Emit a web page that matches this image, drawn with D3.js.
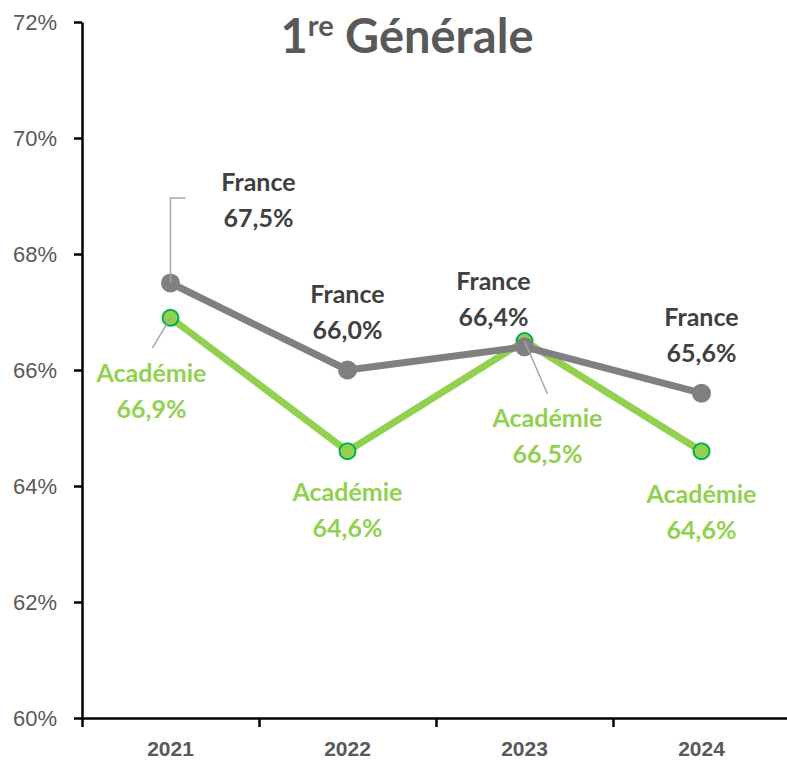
<!DOCTYPE html>
<html>
<head>
<meta charset="utf-8">
<script src="https://cdn.jsdelivr.net/npm/d3@7"></script>
<style>
body { margin: 0; background: #fff; }
svg { font-family: Lato, "Open Sans", sans-serif; }
.axis path, .axis line { stroke: #000; stroke-width: 2.5px; }
.axis text { fill: #595959; }
</style>
</head>
<body>
<svg width="787" height="764"></svg>
<script>
var years = ["2021", "2022", "2023", "2024"];
var france = [67.5, 66.0, 66.4, 65.6];
var academie = [66.9, 64.6, 66.5, 64.6];
var yTicks = [60, 62, 64, 66, 68, 70, 72];

// label placement (pixel offsets from each point), layout only
var franceLab = [[88, -101], [0, -76], [-31, -66], [0, -76]];
var acadLab = [[-19, 55], [0, 41], [23, 77], [0, 43]];

var svg = d3.select("svg");
var plotL = 82, plotR = 790, plotT = 22, plotB = 718;

var x = d3.scaleBand().domain(years).range([plotL, plotR]);
var xb = d3.scaleLinear().domain([0, 4]).range([plotL, plotR]);
var y = d3.scaleLinear().domain([60, 72]).range([plotB, plotT]);
var cx = function(d) { return x(d) + x.bandwidth() / 2; };

var fmt = function(v) { return v.toFixed(1).replace(".", ",") + "%"; };

// y axis
svg.append("g")
    .attr("class", "axis")
    .attr("transform", "translate(" + plotL + ",0)")
    .call(d3.axisLeft(y).tickValues(yTicks).tickSize(8).tickSizeOuter(0).tickPadding(17)
        .tickFormat(function(d) { return d + "%"; }))
    .selectAll("text").style("font-size", "22px");

// x axis: boundary ticks
svg.append("g")
    .attr("class", "axis")
    .attr("transform", "translate(0," + plotB + ")")
    .call(d3.axisBottom(xb).ticks(4).tickSize(9).tickSizeOuter(0).tickFormat(""));

// x axis labels
svg.append("g")
    .attr("class", "axis xlab")
    .attr("transform", "translate(0," + plotB + ")")
    .call(d3.axisBottom(x).tickSize(0).tickPadding(23))
    .call(function(g) { g.select(".domain").remove(); })
    .selectAll("text").style("font-size", "21px").style("font-weight", "bold");

// title
var title = svg.append("text")
    .attr("x", 407).attr("y", 53)
    .attr("text-anchor", "middle")
    .style("font-size", "47px").style("font-weight", "bold")
    .style("fill", "#595959");
title.append("tspan").text("1");
title.append("tspan").text("re").attr("dy", -17).style("font-size", "29px");
title.append("tspan").text(" Générale").attr("dy", 17);

var line = d3.line().x(function(d, i) { return cx(years[i]); }).y(function(d) { return y(d); });

// Académie series
svg.append("path").datum(academie)
    .attr("d", line).attr("fill", "none")
    .attr("stroke", "#92D050").attr("stroke-width", 7).attr("stroke-linejoin", "round");
svg.selectAll(".pa").data(academie).enter().append("circle")
    .attr("class", "pa")
    .attr("cx", function(d, i) { return cx(years[i]); })
    .attr("cy", function(d) { return y(d); })
    .attr("r", 8).attr("fill", "#92D050").attr("stroke", "#00B050").attr("stroke-width", 2);

// France series
svg.append("path").datum(france)
    .attr("d", line).attr("fill", "none")
    .attr("stroke", "#808080").attr("stroke-width", 7).attr("stroke-linejoin", "round");
svg.selectAll(".pf").data(france).enter().append("circle")
    .attr("class", "pf")
    .attr("cx", function(d, i) { return cx(years[i]); })
    .attr("cy", function(d) { return y(d); })
    .attr("r", 9.5).attr("fill", "#808080");

// leader lines
var px0 = cx(years[0]);
svg.append("path")
    .attr("d", "M" + px0 + "," + y(france[0]) + "V" + (y(france[0]) - 85) + "h15")
    .attr("fill", "none").attr("stroke", "#A6A6A6").attr("stroke-width", 1.5);
svg.append("line")
    .attr("x1", px0).attr("y1", y(academie[0]))
    .attr("x2", px0 - 18).attr("y2", y(academie[0]) + 30)
    .attr("stroke", "#A6A6A6").attr("stroke-width", 1.5);
var px2 = cx(years[2]);
svg.append("line")
    .attr("x1", px2).attr("y1", y(academie[2]))
    .attr("x2", px2 + 23).attr("y2", y(academie[2]) + 53)
    .attr("stroke", "#A6A6A6").attr("stroke-width", 1.5);

// data labels
function labels(vals, offs, name, color) {
  vals.forEach(function(v, i) {
    var t = svg.append("text")
        .attr("text-anchor", "middle")
        .style("font-size", "25px").style("font-weight", "bold")
        .style("fill", color);
    var lx = cx(years[i]) + offs[i][0], ly = y(v) + offs[i][1];
    t.append("tspan").attr("x", lx).attr("y", ly).attr("dy", "0.35em").text(name);
    t.append("tspan").attr("x", lx).attr("y", ly + 36).attr("dy", "0.35em").text(fmt(v));
  });
}
labels(france, franceLab, "France", "#404040");
labels(academie, acadLab, "Académie", "#92D050");
</script>
</body>
</html>
